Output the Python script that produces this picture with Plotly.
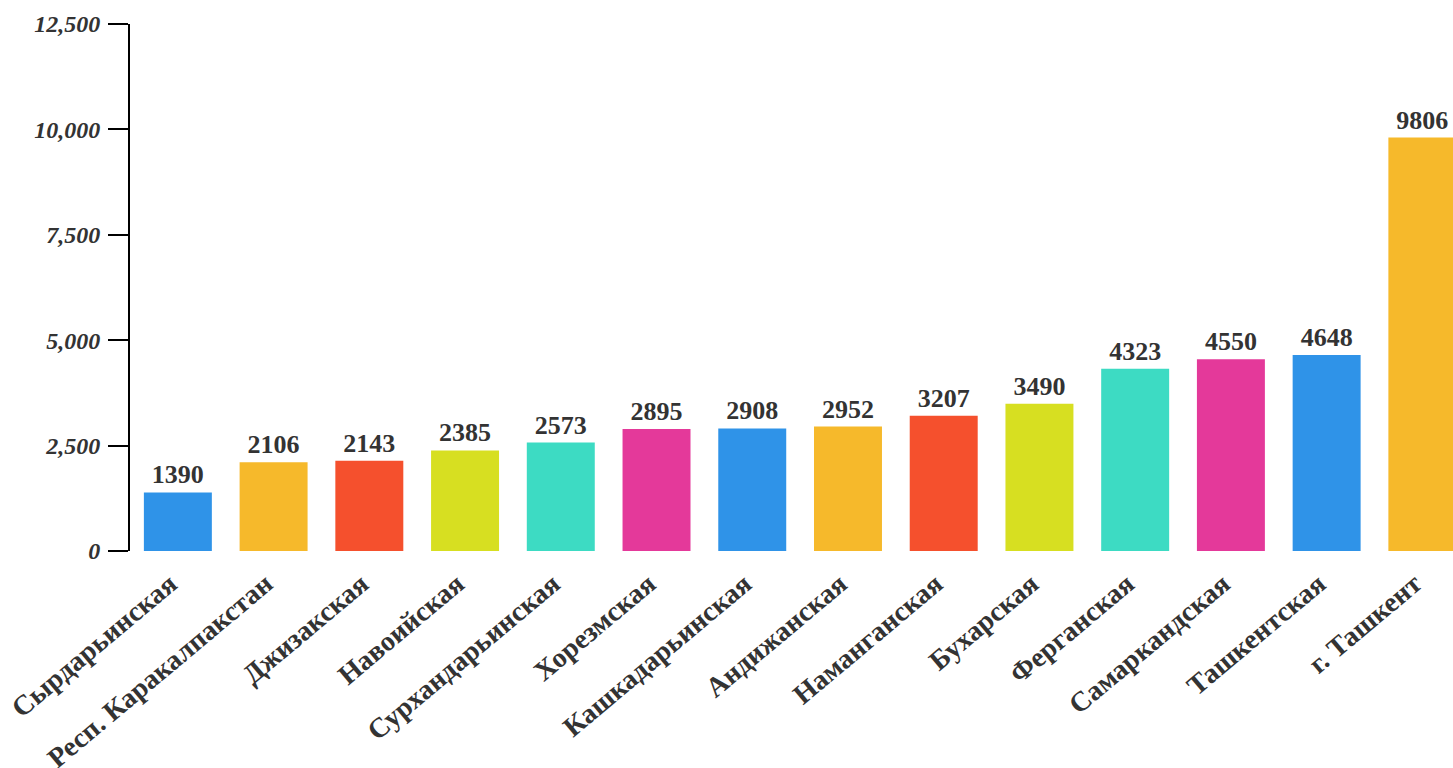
import plotly.graph_objects as go

regions = ["Сырдарьинская", "Респ. Каракалпакстан", "Джизакская", "Навоийская",
           "Сурхандарьинская", "Хорезмская", "Кашкадарьинская", "Андижанская",
           "Наманганская", "Бухарская", "Ферганская", "Самаркандская",
           "Ташкентская", "г. Ташкент"]
values = [1390, 2106, 2143, 2385, 2573, 2895, 2908, 2952, 3207, 3490, 4323, 4550, 4648, 9806]
palette = ["#2F93E8", "#F6B92B", "#F5502D", "#D7DF21", "#3DDBC3", "#E4399A"]
y_ticks = [0, 2500, 5000, 7500, 10000, 12500]

colors = [palette[i % len(palette)] for i in range(len(regions))]
font_family = "Liberation Serif, Times New Roman, serif"

fig = go.Figure(go.Bar(
    x=list(range(len(regions))), y=values,
    marker=dict(color=colors, line=dict(width=0)),
    text=[str(v) for v in values], textposition="outside",
    textfont=dict(family=font_family, size=26, color="#333333", weight="bold"),
    cliponaxis=False,
))

fig.update_layout(
    width=1453, height=768,
    margin=dict(l=130, r=0, t=24, b=217),
    plot_bgcolor="white", paper_bgcolor="white",
    bargap=0.29, showlegend=False,
    xaxis=dict(
        range=[-0.5, 13.32], tickmode="array",
        tickvals=list(range(len(regions))), ticktext=regions,
        tickangle=-40, showgrid=False, showline=False, zeroline=False, ticks="",
        automargin=False, ticklabelstandoff=10, ticklabelshift=-8,
        tickfont=dict(family=font_family, size=28, color="#333333", weight="bold"),
    ),
    yaxis=dict(
        range=[0, 12500], tickmode="array", tickvals=y_ticks,
        ticktext=[f"{v:,}" for v in y_ticks],
        showgrid=False, zeroline=False, showline=True, linecolor="black", linewidth=2,
        ticks="outside", ticklen=20, tickwidth=2, tickcolor="black",
        ticklabelstandoff=3, automargin=False,
        tickfont=dict(family=font_family, size=24, color="#333333", weight="bold", style="italic"),
    ),
)

fig.write_html("out.html", config={"displayModeBar": False},
               post_script="document.body.style.margin='0';document.body.style.overflow='hidden';")
